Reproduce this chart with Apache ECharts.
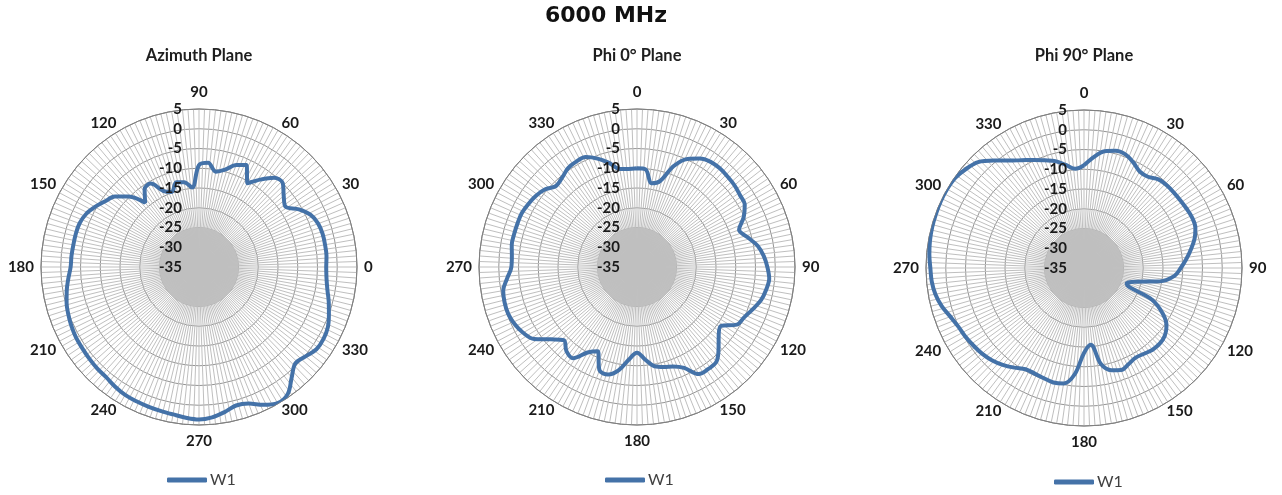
<!DOCTYPE html>
<html><head><meta charset="utf-8">
<script src="https://cdn.jsdelivr.net/npm/echarts@6/dist/echarts.min.js"></script>
<style>html,body{margin:0;padding:0;background:#fff}#c{width:1282px;height:495px}</style>
</head><body><div id="c"></div>
<script>
// Measurement angles (degrees)
const angles = [0,5,10,15,20,25,30,35,40,45,50,55,60,65,70,75,80,85,90,95,100,105,110,115,
  120,125,130,135,140,145,150,155,160,165,170,175,180,185,190,195,200,205,210,215,220,225,230,235,
  240,245,250,255,260,265,270,275,280,285,290,295,300,305,310,315,320,325,330,335,340,345,350,355];

// Gain values (dB)
const azimuth = [-2.8,-2.6,-2.6,-2.6,-2.9,-3.8,-5.8,-8.3,-7.0,-5.0,-5.5,-8.0,-10.5,-6.5,-7.5,-9.5,-10.5,-8.5,-9.2,-14.8,-13.2,-12.8,-14.8,-13.8,
  -10.6,-11.0,-13.8,-9.8,-7.2,-6.0,-4.6,-3.4,-2.8,-2.7,-2.7,-2.6,-2.5,-1.8,-1.0,-0.3,0.2,0.6,0.9,1.0,1.2,1.4,1.5,2.0,
  2.4,2.5,2.6,2.7,2.9,3.3,3.6,3.2,2.3,1.3,1.8,3.5,4.8,4.2,1.5,-0.5,0.2,1.3,1.4,1.0,0.0,-1.0,-2.0,-2.6];

const phi0 = [-10.0,-10.2,-13.5,-12.5,-7.8,-4.8,-3.3,-2.5,-2.4,-2.6,-2.8,-3.2,-3.5,-5.2,-7.5,-6.0,-4.0,-2.8,-2.0,-1.4,-1.8,-2.5,-3.8,-5.0,
  -5.8,-9.0,-8.0,-5.8,-3.7,-3.5,-3.7,-6.8,-8.2,-8.8,-9.5,-11.5,-13.3,-11.5,-8.5,-6.8,-7.2,-11.5,-10.0,-6.8,-7.2,-8.8,-6.5,-3.2,
  -1.7,-0.8,-0.3,-0.3,-0.6,-2.0,-3.2,-3.2,-2.8,-2.8,-2.8,-2.8,-3.2,-3.7,-4.5,-6.0,-5.5,-4.5,-4.2,-4.3,-5.8,-7.7,-9.8,-10.1];

const phi90 = [-9.0,-6.8,-5.0,-4.3,-4.4,-5.5,-6.8,-6.8,-5.7,-5.4,-5.3,-5.2,-5.0,-4.8,-5.0,-6.0,-7.5,-9.0,-10.5,-12.0,-15.5,-21.5,-23.5,-16.0,
  -12.0,-9.5,-8.3,-7.9,-8.0,-8.5,-8.8,-8.2,-7.5,-8.2,-10.3,-15.5,-13.5,-8.0,-5.3,-5.0,-5.3,-5.5,-5.4,-4.2,-3.0,-2.0,-1.3,-0.8,
  -0.3,0.1,1.0,2.3,3.2,3.7,3.9,4.3,4.6,4.8,4.9,5.0,5.0,4.8,4.0,2.9,0.5,-1.8,-3.5,-4.8,-6.0,-7.0,-8.5,-9.8];

const angleLabels = [0,30,60,90,120,150,180,210,240,270,300,330];
const radiusTicks = [-35,-30,-25,-20,-15,-10,-5,0,5];
const seriesName = 'W1';
const mainTitle = '6000 MHz';

const panels = [
  {name:'Azimuth Plane', values:azimuth, center:[199,267], start:0, clockwise:false, topLabel:90, bottomLabel:270, legendX:167, legendY:472},
  {name:'Phi 0° Plane',  values:phi0,    center:[637,267], start:90, clockwise:true, topLabel:0, bottomLabel:180, legendX:605, legendY:472},
  {name:'Phi 90° Plane', values:phi90,   center:[1084,268], start:90, clockwise:true, topLabel:0, bottomLabel:180, legendX:1054, legendY:474}
];

const LABEL_FONT = 'Lato, "DejaVu Sans", sans-serif';
const option = {
  animation:false,
  backgroundColor:'#ffffff',
  title:[{text:mainTitle, left:606, top:5, padding:0, textAlign:'center',
    textStyle:{fontFamily:'"DejaVu Sans", sans-serif', fontWeight:'bold', fontSize:22, color:'#111'}}],
  polar:[], angleAxis:[], radiusAxis:[], series:[], legend:[]
};

const bandColors = ['#c3c3c3','#c3c3c3','rgba(0,0,0,0)','rgba(0,0,0,0)','rgba(0,0,0,0)','rgba(0,0,0,0)','rgba(0,0,0,0)','rgba(0,0,0,0)'];
const ringColors = ['#d0d0d0','#d6d6d6','#949494','#949494','#949494','#949494','#949494','#949494','#808080'];
const labelText = {color:'#1a1a1a', fontFamily:LABEL_FONT, fontWeight:'bold', fontSize:15};

panels.forEach((p, k) => {
  const gi = k*2, li = k*2+1;
  option.title.push({text:p.name, left:p.center[0], top:47, padding:0, textAlign:'center',
    textStyle:{fontFamily:LABEL_FONT, fontWeight:'bold', fontSize:16.5, color:'#1e1e1e'}});
  option.polar.push({center:p.center, radius:158});
  option.polar.push({center:p.center, radius:158});
  option.angleAxis.push({polarIndex:gi, type:'value', min:0, max:360, interval:2,
    startAngle:p.start, clockwise:p.clockwise,
    axisLine:{show:true, lineStyle:{color:'#808080', width:1}},
    axisTick:{show:false},
    axisLabel:{show:true, margin:7,
      formatter:v => {
        if (angleLabels.indexOf(v) < 0) return '';
        if (v === p.topLabel) return '{t|' + v + '}';
        if (v === p.bottomLabel) return '{b|' + v + '}';
        return '{m|' + v + '}';
      },
      rich:{
        t:Object.assign({padding:[0,0,2,0]}, labelText),
        b:Object.assign({padding:[2,0,0,0]}, labelText),
        m:Object.assign({lineHeight:1}, labelText)
      }},
    splitLine:{show:true, lineStyle:{color:'#bfbfbf', width:1}},
    z:1
  });
  option.radiusAxis.push({polarIndex:gi, type:'value', min:radiusTicks[0], max:radiusTicks[radiusTicks.length-1], interval:5,
    axisLine:{show:false}, axisTick:{show:false}, axisLabel:{show:false},
    splitLine:{show:true, lineStyle:{color:ringColors, width:1}},
    splitArea:{show:true, areaStyle:{color:bandColors}},
    z:1
  });
  option.angleAxis.push({polarIndex:li, type:'value', min:0, max:360, startAngle:90,
    axisLine:{show:false}, axisTick:{show:false}, axisLabel:{show:false}, splitLine:{show:false}});
  option.radiusAxis.push({polarIndex:li, type:'value', min:radiusTicks[0], max:radiusTicks[radiusTicks.length-1], interval:5,
    axisLine:{show:false}, axisTick:{show:false}, splitLine:{show:false},
    axisLabel:Object.assign({show:true, margin:17}, labelText),
    z:5
  });
  const data = angles.map((a, i) => [p.values[i], a]);
  data.push([p.values[0], 360]);
  option.series.push({name:seriesName, type:'line', coordinateSystem:'polar', polarIndex:gi,
    data:data, smooth:0.35, symbol:'none', showSymbol:false,
    lineStyle:{color:'#4472a8', width:4}, itemStyle:{color:'#4472a8'}, z:3});
  option.legend.push({data:[{name:seriesName, icon:'roundRect'}], left:p.legendX, top:p.legendY, padding:0, selectedMode:false,
    itemWidth:40, itemHeight:5, itemGap:0,
    itemStyle:{color:'#4472a8', borderWidth:0},
    textStyle:{fontFamily:LABEL_FONT, fontSize:16, color:'#404040', padding:[0,0,0,-2]}});
});

const chart = echarts.init(document.getElementById('c'), null, {renderer:'canvas'});
chart.setOption(option);
</script>
</body></html>
